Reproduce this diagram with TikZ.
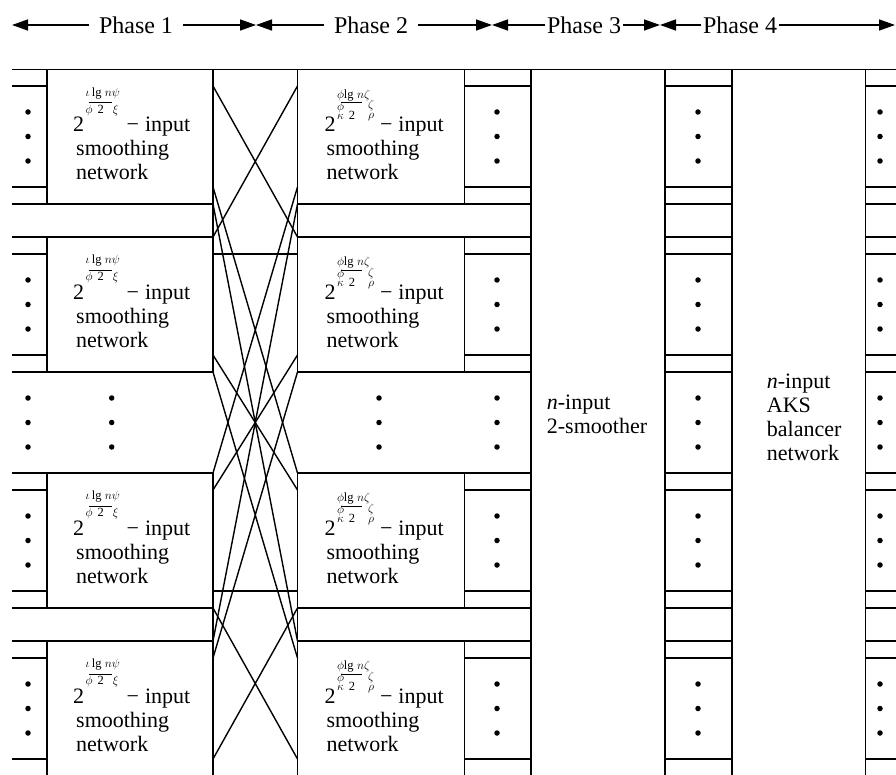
\documentclass[tikz,border=0pt]{standalone}
\usepackage{fontspec}
\setmainfont{Liberation Serif}
\usetikzlibrary{arrows.meta}
\begin{document}
\begin{tikzpicture}[x=1pt,y=-1pt]
\tikzset{
  grid/.style={line width=1.5pt, line cap=rect},
  wire/.style={line width=1.4pt},
  dotmark/.style={circle, fill=black, inner sep=0pt, minimum size=5.5pt},
  lbl/.style={font=\fontsize{22}{24}\selectfont, inner sep=0pt, anchor=base west},
  hdr/.style={font=\fontsize{24}{26}\selectfont, inner ysep=0pt},
  parrow/.style={-{Triangle[length=16pt,width=11pt]}, line width=1.5pt}
}
\newcommand{\supA}{\makebox[37pt][l]{\fontsize{12.5}{12.5}\selectfont
  \rlap{\raisebox{35.5pt}{$\iota\,\mathrm{lg}\;n\psi$}}%
  \rlap{\raisebox{28.5pt}{\hspace{3pt}\rule{23pt}{0.8pt}}}%
  \raisebox{18.5pt}{$\phi$}\hspace{5pt}\raisebox{18.5pt}{2}\hspace{9pt}\raisebox{18.5pt}{$\xi$}}}
\newcommand{\supB}{\makebox[39pt][l]{\fontsize{12.5}{12.5}\selectfont
  \rlap{\raisebox{33.5pt}{$\phi\mathrm{lg}\;n\zeta$}}%
  \rlap{\raisebox{28.5pt}{\hspace{4pt}\rule{21pt}{0.8pt}}}%
  \rlap{\raisebox{21.5pt}{$\phi$}}%
  \rlap{\raisebox{12.5pt}{$\kappa$\hspace{5pt}2}}%
  \rlap{\hspace{31pt}\raisebox{23pt}{$\zeta$}}%
  \hspace{31pt}\raisebox{13pt}{$\rho$}}}
\useasboundingbox (0,0) rectangle (896,775);
% header
\node[hdr, inner xsep=10pt] (ph1) at (136,25) {Phase 1};
\node[hdr, inner xsep=10pt] (ph2) at (371,25) {Phase 2};
\node[hdr, inner xsep=2pt] (ph3) at (584,25) {Phase 3};
\node[hdr, inner xsep=2pt] (ph4) at (740,25) {Phase 4};
\coordinate (b0) at (12,25);
\coordinate (b1) at (256,25);
\coordinate (b2) at (492,25);
\coordinate (b3) at (660,25);
\coordinate (b4) at (895,25);
\draw[parrow] (ph1) -- (b0); \draw[parrow] (ph1) -- (b1);
\draw[parrow] (ph2) -- (b1); \draw[parrow] (ph2) -- (b2);
\draw[parrow] (ph3) -- (b2); \draw[parrow] (ph3) -- (b3);
\draw[parrow] (ph4) -- (b3); \draw[parrow] (ph4) -- (b4);
% horizontal grid lines
\foreach \y in {69.5,86,187,204,237,254,355,372,473,490,591,608,641,658,759} {
  \draw[grid] (12.7,\y) -- (47,\y);
  \draw[grid] (464.5,\y) -- (531,\y);
  \draw[grid] (665,\y) -- (732,\y);
  \draw[grid] (865.5,\y) -- (896,\y);
}
\foreach \y in {69.5,204,237,372,473,608,641} {
  \draw[grid] (47,\y) -- (213,\y);
  \draw[grid] (297.5,\y) -- (464.5,\y);
}
\draw[grid] (213,69.5) -- (297.5,69.5) (531,69.5) -- (665,69.5) (732,69.5) -- (865.5,69.5);
% vertical grid lines
\foreach \x in {531,665,732,865.5} \draw[grid] (\x,69.5) -- (\x,776);
\foreach \a/\b in {69.5/204,237/372,473/608,641/776} {
  \draw[grid] (47,\a) -- (47,\b);
  \draw[grid] (464.5,\a) -- (464.5,\b);
}
\draw[grid] (213,69.5) -- (213,372) (213,473) -- (213,776);
\draw[grid] (297.5,69.5) -- (297.5,372) (297.5,473) -- (297.5,776);
% dots
\foreach \c in {136.5,304.5,422.5,540.5,708.5} {
  \foreach \x in {28,497,698,880} {
    \foreach \d in {-24.5,0,24.5} \node[dotmark] at (\x,\c+\d) {};
  }
}
\foreach \x in {111.7,379} {
  \foreach \d in {-24.5,0,24.5} \node[dotmark] at (\x,422.5+\d) {};
}
% box labels
\foreach \r/\t in {1/69.5,2/237,4/473,5/641} {
  \node[lbl] (ta\r) at (73,\t+62.2) {\begin{tabular}[t]{@{}l@{}}2\hspace{1.5pt}\supA\hspace{4pt}−\hspace{6pt}input\\\hspace{3pt}smoothing\\\hspace{3pt}network\end{tabular}};
  \node[lbl] (tb\r) at (324.3,\t+62.2) {\begin{tabular}[t]{@{}l@{}}2\hspace{1.5pt}\supB\hspace{4pt}−\hspace{6pt}input\\\hspace{2pt}smoothing\\\hspace{2pt}network\end{tabular}};
}
\node[lbl] (smo) at (546.7,409) {\begin{tabular}[t]{@{}l@{}}\textit{n}-input\\2-smoother\end{tabular}};
\node[lbl] (aks) at (766.7,388) {\begin{tabular}[t]{@{}l@{}}\textit{n}-input\\AKS\\balancer\\network\end{tabular}};
% wire ports (outputs of phase 1 on the left, inputs of phase 2 on the right)
\foreach \n/\y in {1/69.5,2/86,3/187,4/204,5/237,6/254,7/355,8/372,9/473,10/490,11/591,12/608,13/641,14/658,15/759} {
  \coordinate (L\n) at (213,\y);
  \coordinate (R\n) at (297.5,\y);
}
% transpose wiring
\draw[wire] (L2) -- (R5) (L5) -- (R2);
\draw[wire] (L6) -- (R6);
\draw[wire] (L3) -- (R9) (L9) -- (R3);
\draw[wire] (L4) -- (R13) (L13) -- (R4);
\draw[wire] (L7) -- (R10) (L10) -- (R7);
\draw[wire] (L8) -- (R14) (L14) -- (R8);
\draw[wire] (L11) -- (R11);
\draw[wire] (L12) -- (R15) (L15) -- (R12);
\end{tikzpicture}
\end{document}
